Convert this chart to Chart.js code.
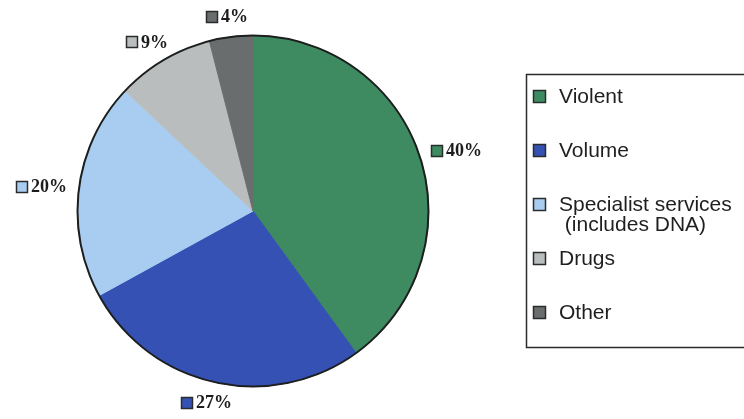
<!DOCTYPE html>
<html>
<head>
<meta charset="utf-8">
<script src="https://cdn.jsdelivr.net/npm/chart.js@4/dist/chart.umd.min.js"></script>
<style>
  html, body { margin: 0; padding: 0; background: #ffffff; }
  #wrap { width: 744px; height: 419px; }
</style>
</head>
<body>
<div id="wrap"><canvas id="pie" width="744" height="419"></canvas></div>
<script>
// Share of forensic work by crime type (per cent)
const categories = ['Violent', 'Volume', 'Specialist services', 'Drugs', 'Other'];
const legendLines = [['Violent'], ['Volume'], ['Specialist services', ' (includes DNA)'], ['Drugs'], ['Other']];
const shares = [40, 27, 20, 9, 4];

// Slice fills
const sliceColors = ['#3e8b61', '#3451b3', '#a9cdf1', '#babdbd', '#6a6d6e'];

const outlinePlugin = {
  id: 'pieOutline',
  afterDatasetsDraw(chart) {
    const arc = chart.getDatasetMeta(0).data[0];
    if (!arc) return;
    const ctx = chart.ctx;
    ctx.save();
    ctx.beginPath();
    ctx.arc(arc.x, arc.y, arc.outerRadius, 0, Math.PI * 2);
    ctx.lineWidth = 2;
    ctx.strokeStyle = '#1d1f1f';
    ctx.stroke();
    ctx.restore();
  }
};

// Value labels sit just outside each slice: an anchor point beyond the rim
// at the slice's mid angle, with the label box pushed outward from it.
const valueLabelPlugin = {
  id: 'valueLabels',
  afterDatasetsDraw(chart) {
    const ctx = chart.ctx;
    const meta = chart.getDatasetMeta(0);
    const values = chart.data.datasets[0].data;
    const fills = chart.data.datasets[0].backgroundColor;
    ctx.save();
    ctx.font = 'bold 18px "Liberation Serif", "Times New Roman", serif';
    ctx.textBaseline = 'middle';
    ctx.textAlign = 'left';
    meta.data.forEach((arc, i) => {
      const text = values[i] + '%';
      const sw = 11, gap = 3;
      const w = sw + gap + ctx.measureText(text).width;
      const h = 16;
      const mid = (arc.startAngle + arc.endAngle) / 2;
      const ux = Math.cos(mid), uy = Math.sin(mid);
      const r = arc.outerRadius + 13;
      const cx = arc.x + r * ux + ux * w / 2;
      const cy = arc.y + r * uy + uy * h / 2;
      const left = Math.round(cx - w / 2);
      const top = Math.round(cy - sw / 2);
      ctx.fillStyle = fills[i];
      ctx.fillRect(left + 0.5, top + 0.5, sw, sw);
      ctx.lineWidth = 1.5;
      ctx.strokeStyle = '#2a2c2c';
      ctx.strokeRect(left + 0.5, top + 0.5, sw, sw);
      ctx.fillStyle = '#1c1c1c';
      ctx.fillText(text, left + sw + gap + 1, cy + 1);
    });
    ctx.restore();
  }
};

const legendBoxPlugin = {
  id: 'legendBox',
  afterDraw(chart) {
    const ctx = chart.ctx;
    const fills = chart.data.datasets[0].backgroundColor;
    const boxLeft = 526.5, boxTop = 74.5, boxBottom = 347.5;
    ctx.save();
    ctx.lineWidth = 1.5;
    ctx.strokeStyle = '#2b2b2b';
    ctx.beginPath();
    ctx.moveTo(760, boxTop);
    ctx.lineTo(boxLeft, boxTop);
    ctx.lineTo(boxLeft, boxBottom);
    ctx.lineTo(760, boxBottom);
    ctx.stroke();

    ctx.font = '21px "Liberation Sans", Arial, sans-serif';
    ctx.textBaseline = 'middle';
    ctx.textAlign = 'left';
    const firstY = 96, step = 54, lineH = 20;
    legendLines.forEach((lines, i) => {
      const y = firstY + i * step;
      const sw = 12;
      ctx.fillStyle = fills[i];
      ctx.fillRect(533.5, Math.round(y - sw / 2) + 0.5, sw, sw);
      ctx.lineWidth = 1.5;
      ctx.strokeStyle = '#2a2c2c';
      ctx.strokeRect(533.5, Math.round(y - sw / 2) + 0.5, sw, sw);
      ctx.fillStyle = '#1f1f1f';
      lines.forEach((t, j) => ctx.fillText(t, 559, y + 1 + j * lineH));
    });
    ctx.restore();
  }
};

new Chart(document.getElementById('pie'), {
  type: 'pie',
  data: {
    labels: categories,
    datasets: [{
      data: shares,
      backgroundColor: sliceColors,
      borderColor: sliceColors,
      borderWidth: 1
    }]
  },
  options: {
    responsive: false,
    animation: false,
    layout: { padding: { left: 77, top: 35, right: 315, bottom: 32 } },
    plugins: {
      legend: { display: false },
      tooltip: { enabled: false }
    }
  },
  plugins: [outlinePlugin, valueLabelPlugin, legendBoxPlugin]
});
</script>
</body>
</html>
